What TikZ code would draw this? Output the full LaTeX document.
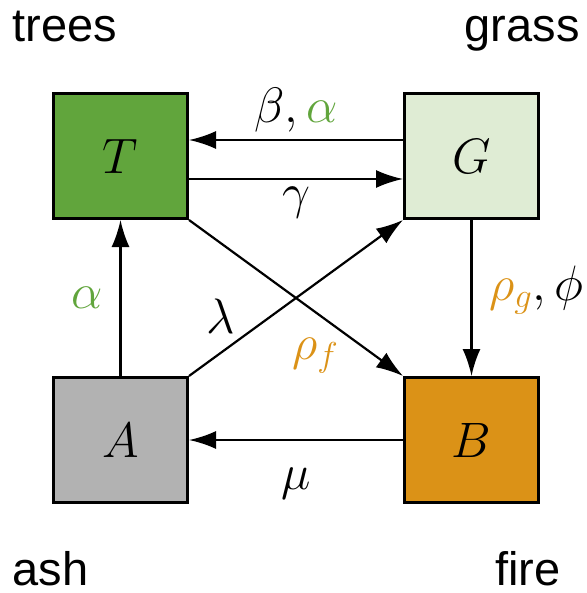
\documentclass[tikz,border=0pt]{standalone}
\usepackage{fontspec}
\newfontfamily\tagfont{Liberation Sans}
\usepackage{tikz}
\usetikzlibrary{arrows.meta,positioning}
\definecolor{treegreen}{RGB}{97,165,60}
\definecolor{grassgreen}{RGB}{223,236,212}
\definecolor{ashgray}{RGB}{178,178,178}
\definecolor{fireorange}{RGB}{219,146,23}

\begin{document}
\begin{tikzpicture}[
  state/.style={draw=black, line width=1.5pt, fill=#1, minimum width=67pt,
                minimum height=62.5pt, inner sep=0pt,
                font=\fontsize{33}{40}\selectfont},
  arr/.style={-{Latex[length=13.5pt,width=9pt]}, line width=1.1pt},
  rate/.style={font=\fontsize{23}{28}\selectfont},
  tag/.style={font=\tagfont\fontsize{23.5}{28}\selectfont, inner sep=0pt},
  node distance=78pt and 107pt]

\useasboundingbox (0,0) rectangle (293pt,-296.5pt);

\node[state=treegreen] (T) at (60.25pt,-78pt) {$T$};
\node[state=grassgreen, right=of T] (G) {$G$};
\node[state=ashgray, below=of T] (A) {$A$};
\node[state=fireorange, right=of A] (B) {$B$};

\node[tag, anchor=base west] (trees) at (6pt,-21pt) {trees};
\node[tag, anchor=base east] (grass) at (290pt,-21pt) {grass};
\node[tag, anchor=base west] (ash) at (6pt,-292.5pt) {ash};
\node[tag, anchor=base east] (fire) at (280.5pt,-292.5pt) {fire};

\draw[arr] ([yshift=8pt]G.west) -- node[rate, above=0pt]
  {$\beta, {\color{treegreen}\alpha}$} ([yshift=8pt]T.east);
\draw[arr] ([yshift=-11.5pt]T.east) -- node[rate, below=0pt]
  {$\gamma$} ([yshift=-11.5pt]G.west);
\draw[arr] (A.north) -- node[rate, left=5pt]
  {$\color{treegreen}\alpha$} (T.south);
\draw[arr] (G.south) -- node[rate, pos=0.45, right=5pt]
  {${\color{fireorange}\rho_g}, \phi$} (B.north);
\draw[arr] (B.west) -- node[rate, below=10pt] {$\mu$} (A.east);
\draw[arr] (A.north east) -- node[rate, pos=0.2, xshift=-5.5pt, yshift=14.5pt]
  {$\lambda$} (G.south west);
\draw[arr] (T.south east) -- node[rate, pos=0.6, xshift=-1pt, yshift=-21pt]
  {$\color{fireorange}\rho_f$} (B.north west);
\end{tikzpicture}
\end{document}
